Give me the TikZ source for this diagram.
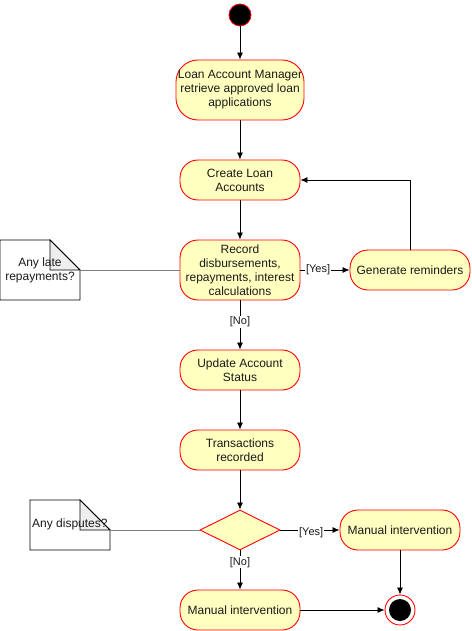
\documentclass[tikz,border=0pt]{standalone}
\usepackage{fontspec}
\setmainfont{Liberation Sans}
\usetikzlibrary{arrows.meta,shapes.geometric}
\definecolor{actfill}{HTML}{FFFFC0}
\definecolor{actline}{HTML}{FF0000}
\definecolor{foldfill}{HTML}{EEEEEE}
\definecolor{txt}{HTML}{1A1A1A}
\begin{document}
\begin{tikzpicture}[x=1pt,y=-1pt,
  action/.style={draw=actline,fill=actfill,rounded corners=18pt,line width=0.9pt,
    minimum width=120pt,minimum height=40pt,align=center,inner sep=2pt,
    font=\fontsize{12}{14}\selectfont,text=txt},
  decision/.style={draw=actline,fill=actfill,diamond,line width=0.9pt,
    minimum width=80pt,minimum height=40pt,aspect=2,inner sep=0pt},
  flow/.style={-{Latex[length=7pt,width=6pt]},line width=0.8pt},
  guard/.style={font=\fontsize{11}{13}\selectfont,fill=white,inner sep=1pt,text=txt},
  notebody/.style={draw=black,fill=white,line width=0.8pt},
  notefold/.style={draw=black,fill=foldfill,line width=0.8pt},
  notetext/.style={font=\fontsize{12}{14}\selectfont,align=center,text=txt,inner sep=0pt},
  link/.style={draw=gray,line width=0.8pt}]
\useasboundingbox (0,0) rectangle (471,631);

% start and end
\node[circle,fill=black,draw=actline,line width=0.8pt,minimum size=22pt,inner sep=0pt] (start) at (240,15) {};
\node[circle,draw=actline,fill=white,line width=0.9pt,minimum size=30pt,inner sep=0pt] (stop) at (400,610) {};
\node[circle,fill=black,minimum size=22pt,inner sep=0pt] at (400,610) {};

% actions
\node[action,minimum width=128pt,minimum height=60pt,rounded corners=22pt] (retrieve) at (240,90)
  {Loan Account Manager\\retrieve approved loan\\applications};
\node[action] (create) at (240,180) {Create Loan\\Accounts};
\node[action,minimum height=60pt] (record) at (240,270)
  {Record\\disbursements,\\repayments, interest\\calculations};
\node[action] (remind) at (410,270) {Generate reminders};
\node[action] (update) at (240,370) {Update Account\\Status};
\node[action] (trans) at (240,450) {Transactions\\recorded};
\node[decision] (dec) at (240,530) {};
\node[action] (manright) at (400,530) {Manual intervention};
\node[action] (manbottom) at (240,610) {Manual intervention};

% notes
\draw[notebody] (0,240) -- (50,240) -- (80,270) -- (80,300) -- (0,300) -- cycle;
\draw[notefold] (50,240) -- (50,270) -- (80,270) -- cycle;
\node[notetext] (latenote) at (40,270) {Any late\\repayments?};
\coordinate (latepin) at (80,270);

\draw[notebody] (30,500) -- (80,500) -- (110,530) -- (110,550) -- (30,550) -- cycle;
\draw[notefold] (80,500) -- (80,530) -- (110,530) -- cycle;
\node[notetext,anchor=west] (disputenote) at (32,524) {Any disputes?};
\coordinate (disputepin) at (110,530);

\draw[link] (latepin) -- (record.west);
\draw[link] (disputepin) -- (dec.west);

% control flow
\draw[flow] (start) -- (retrieve);
\draw[flow] (retrieve) -- (create);
\draw[flow] (create) -- (record);
\draw[flow] (record) -- node[guard,pos=0.36] {[Yes]} (remind);
\draw[flow] (remind.north) |- (create.east);
\draw[flow] (record) -- node[guard,pos=0.44] {[No]} (update);
\draw[flow] (update) -- (trans);
\draw[flow] (trans) -- (dec);
\draw[flow] (dec) -- node[guard,pos=0.52,yshift=-3pt] {[Yes]} (manright);
\draw[flow] (dec) -- node[guard,pos=0.3] {[No]} (manbottom);
\draw[flow] (manright) -- (stop);
\draw[flow] (manbottom) -- (stop);
\end{tikzpicture}
\end{document}
